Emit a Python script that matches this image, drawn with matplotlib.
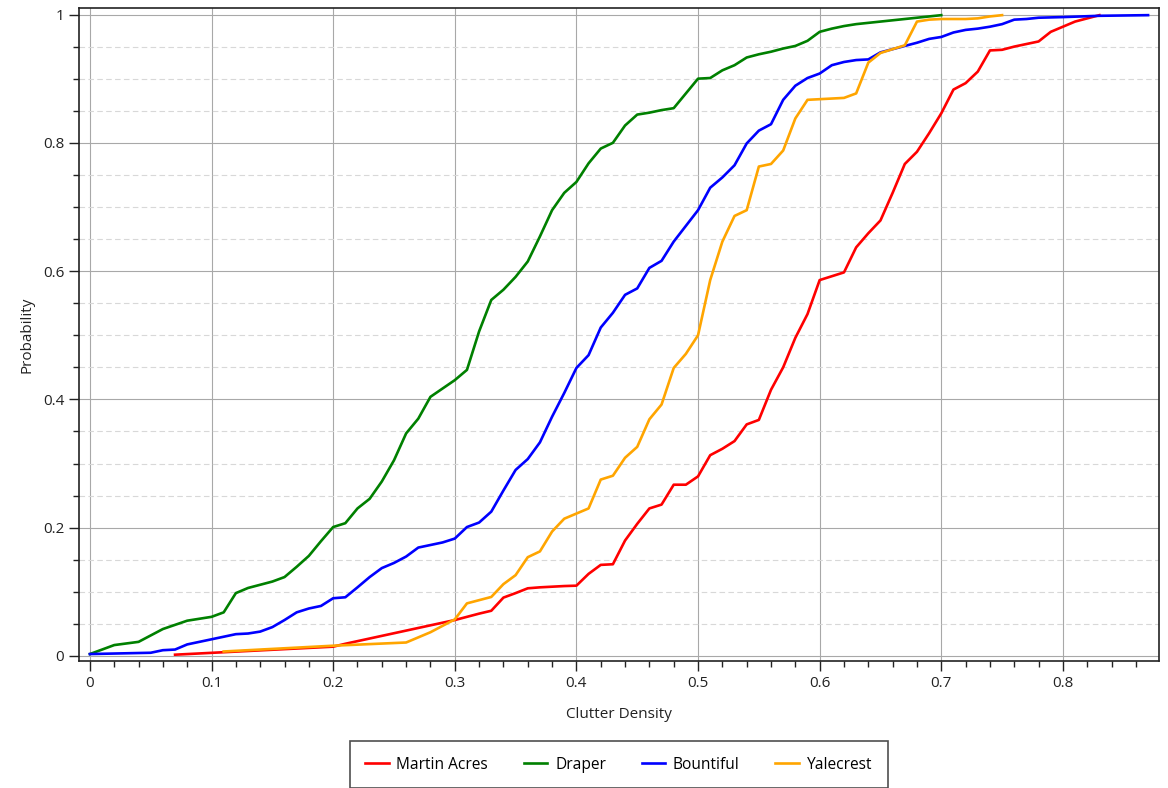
import matplotlib.pyplot as plt
from matplotlib.ticker import MultipleLocator

plt.rcParams["font.family"] = ["Open Sans", "DejaVu Sans"]

# Martin Acres
ma_x = [0.07, 0.20, 0.21, 0.30, 0.31, 0.32, 0.33, 0.34, 0.35, 0.36, 0.37, 0.38, 0.39, 0.40,
        0.41, 0.42, 0.43, 0.44, 0.45, 0.46, 0.47, 0.48, 0.49, 0.50, 0.51, 0.52, 0.53, 0.54,
        0.55, 0.56, 0.57, 0.58, 0.59, 0.60, 0.61, 0.62, 0.63, 0.64, 0.65, 0.66, 0.67, 0.68,
        0.69, 0.70, 0.71, 0.72, 0.73, 0.74, 0.75, 0.76, 0.77, 0.78, 0.79, 0.80, 0.81, 0.82, 0.83]
ma_y = [0.002, 0.0145, 0.019, 0.056, 0.061, 0.066, 0.0705, 0.091, 0.098, 0.1055, 0.107, 0.108,
        0.109, 0.1096, 0.128, 0.142, 0.143, 0.18, 0.206, 0.23, 0.236, 0.267, 0.267, 0.28, 0.313,
        0.323, 0.335, 0.361, 0.368, 0.415, 0.45, 0.496, 0.533, 0.586, 0.592, 0.598, 0.637,
        0.659, 0.679, 0.722, 0.767, 0.786, 0.815, 0.846, 0.883, 0.893, 0.911, 0.944, 0.945,
        0.95, 0.954, 0.958, 0.973, 0.981, 0.989, 0.994, 0.999]

# Draper
dr_x = [0.00, 0.02, 0.04, 0.06, 0.08, 0.10, 0.11, 0.12, 0.13, 0.15, 0.16, 0.17, 0.18, 0.19,
        0.20, 0.21, 0.22, 0.23, 0.24, 0.25, 0.26, 0.27, 0.28, 0.30, 0.31, 0.32, 0.33, 0.34,
        0.35, 0.36, 0.37, 0.38, 0.39, 0.40, 0.41, 0.42, 0.43, 0.44, 0.45, 0.46, 0.47, 0.48,
        0.50, 0.51, 0.52, 0.53, 0.54, 0.55, 0.56, 0.57, 0.58, 0.59, 0.60, 0.61, 0.62, 0.63,
        0.70]
dr_y = [0.003, 0.017, 0.022, 0.042, 0.055, 0.061, 0.068, 0.098, 0.106, 0.116, 0.123, 0.139,
        0.156, 0.179, 0.201, 0.207, 0.23, 0.245, 0.272, 0.305, 0.347, 0.37, 0.404, 0.43,
        0.446, 0.506, 0.555, 0.571, 0.591, 0.615, 0.654, 0.695, 0.722, 0.739, 0.768, 0.791,
        0.80, 0.827, 0.844, 0.847, 0.851, 0.854, 0.90, 0.901, 0.913, 0.921, 0.933, 0.938,
        0.942, 0.947, 0.951, 0.959, 0.973, 0.978, 0.982, 0.985, 0.999]

# Bountiful
bo_x = [0.00, 0.05, 0.06, 0.07, 0.08, 0.09, 0.10, 0.11, 0.12, 0.13, 0.14, 0.15, 0.16, 0.17,
        0.18, 0.19, 0.20, 0.21, 0.22, 0.23, 0.24, 0.25, 0.26, 0.27, 0.28, 0.29, 0.30, 0.31,
        0.32, 0.33, 0.34, 0.35, 0.36, 0.37, 0.38, 0.39, 0.40, 0.41, 0.42, 0.43, 0.44, 0.45,
        0.46, 0.47, 0.48, 0.50, 0.51, 0.52, 0.53, 0.54, 0.55, 0.56, 0.57, 0.58, 0.59, 0.60,
        0.61, 0.62, 0.63, 0.64, 0.65, 0.66, 0.67, 0.68, 0.69, 0.70, 0.71, 0.72, 0.73, 0.74,
        0.75, 0.76, 0.77, 0.78, 0.80, 0.83, 0.87]
bo_y = [0.003, 0.005, 0.009, 0.010, 0.018, 0.022, 0.026, 0.030, 0.034, 0.035, 0.038, 0.045,
        0.056, 0.068, 0.074, 0.078, 0.090, 0.0915, 0.107, 0.123, 0.137, 0.145, 0.155, 0.169,
        0.173, 0.177, 0.183, 0.201, 0.208, 0.225, 0.258, 0.29, 0.307, 0.333, 0.373, 0.41,
        0.449, 0.469, 0.512, 0.535, 0.563, 0.573, 0.605, 0.616, 0.646, 0.695, 0.73, 0.746,
        0.765, 0.799, 0.819, 0.829, 0.867, 0.889, 0.901, 0.908, 0.921, 0.926, 0.929, 0.930,
        0.941, 0.946, 0.951, 0.956, 0.962, 0.965, 0.972, 0.976, 0.978, 0.981, 0.985, 0.992,
        0.993, 0.995, 0.996, 0.998, 0.999]

# Yalecrest
ya_x = [0.11, 0.20, 0.26, 0.27, 0.28, 0.29, 0.30, 0.31, 0.32, 0.33, 0.34, 0.35, 0.36, 0.37,
        0.38, 0.39, 0.40, 0.41, 0.42, 0.43, 0.44, 0.45, 0.46, 0.47, 0.48, 0.49, 0.50, 0.51,
        0.52, 0.53, 0.54, 0.55, 0.56, 0.57, 0.58, 0.59, 0.60, 0.61, 0.62, 0.63, 0.64, 0.65,
        0.66, 0.67, 0.68, 0.69, 0.70, 0.72, 0.73, 0.74, 0.75]
ya_y = [0.007, 0.016, 0.021, 0.029, 0.037, 0.047, 0.057, 0.082, 0.087, 0.092, 0.112, 0.126,
        0.154, 0.163, 0.194, 0.214, 0.222, 0.23, 0.275, 0.281, 0.309, 0.326, 0.369, 0.392,
        0.449, 0.471, 0.50, 0.586, 0.646, 0.686, 0.695, 0.763, 0.767, 0.788, 0.838, 0.867,
        0.868, 0.869, 0.870, 0.877, 0.925, 0.940, 0.946, 0.952, 0.989, 0.992, 0.993, 0.993,
        0.994, 0.997, 0.999]

fig = plt.figure(figsize=(11.68, 7.88), dpi=100)
ax = fig.add_axes([0.0676, 0.1612, 0.9247, 0.8286])

ax.plot(ma_x, ma_y, color="#ff0000", lw=1.9, label="Martin Acres")
ax.plot(dr_x, dr_y, color="#008000", lw=1.9, label="Draper")
ax.plot(bo_x, bo_y, color="#0000ff", lw=1.9, label="Bountiful")
ax.plot(ya_x, ya_y, color="#ffa500", lw=1.9, label="Yalecrest")

ax.set_xlim(-0.009, 0.879)
ax.set_ylim(-0.0078, 1.0101)
ax.xaxis.set_minor_locator(MultipleLocator(0.02))
ax.yaxis.set_minor_locator(MultipleLocator(0.05))
ax.set_xticks([0, 0.1, 0.2, 0.3, 0.4, 0.5, 0.6, 0.7, 0.8])
ax.set_xticklabels(["0", "0.1", "0.2", "0.3", "0.4", "0.5", "0.6", "0.7", "0.8"])
ax.set_yticks([0, 0.2, 0.4, 0.6, 0.8, 1.0])
ax.set_yticklabels(["0", "0.2", "0.4", "0.6", "0.8", "1"])

ax.grid(which="major", color="#a8a8a8", lw=0.8)
ax.grid(which="minor", axis="y", color="#d8d8d8", lw=0.8, ls=(0, (5, 3)))
ax.set_axisbelow(True)
ax.tick_params(which="major", length=7, width=1, labelsize=11, color="#222222",
               labelcolor="#222222")
ax.tick_params(which="minor", length=4, width=1, color="#222222")
for s in ax.spines.values():
    s.set_color("#222222")
    s.set_linewidth(1.2)

ax.set_xlabel("Clutter Density", fontsize=11, labelpad=12, color="#222222")
ax.set_ylabel("Probability", fontsize=11, labelpad=6, color="#222222")

leg = fig.legend(loc="upper center", bbox_to_anchor=(0.5297, 0.0596), ncol=4,
                 fontsize=11.2, frameon=True, fancybox=False, edgecolor="#222222",
                 handlelength=1.5, handletextpad=0.5, columnspacing=2.3,
                 borderpad=1.0, borderaxespad=0)
leg.get_frame().set_linewidth(1.2)

fig.savefig("out.png", dpi=100)
